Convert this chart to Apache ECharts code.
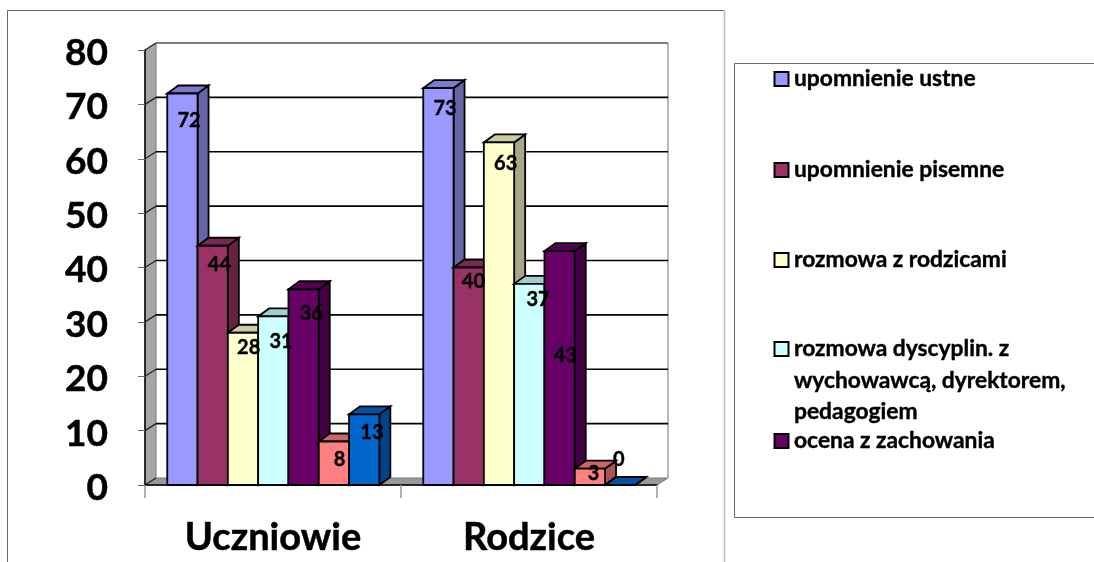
<!DOCTYPE html>
<html>
<head>
<meta charset="utf-8">
<style>
  html, body { margin: 0; padding: 0; background: #fff; }
  #chart { width: 1094px; height: 562px; }
</style>
<script src="https://cdn.jsdelivr.net/npm/echarts@6/dist/echarts.min.js"></script>
</head>
<body>
<div id="chart"></div>
<script>
const categories = ['Uczniowie', 'Rodzice'];
const upomnienieUstne = [72, 73];
const upomnieniePisemne = [44, 40];
const rozmowaZRodzicami = [28, 63];
const rozmowaDyscyplin = [31, 37];
const ocenaZZachowania = [36, 43];
const szosta = [8, 3];
const siodma = [13, 0];
const yTicks = [0, 10, 20, 30, 40, 50, 60, 70, 80];

const legendNames = [
  'upomnienie ustne',
  'upomnienie pisemne',
  'rozmowa z rodzicami',
  'rozmowa dyscyplin. z\nwychowawcą, dyrektorem,\npedagogiem',
  'ocena z zachowania'
];

const allSeries = [upomnienieUstne, upomnieniePisemne, rozmowaZRodzicami, rozmowaDyscyplin, ocenaZZachowania, szosta, siodma];
const colors = ['#9999FF', '#993366', '#FFFFCC', '#CCFFFF', '#660066', '#FF8080', '#0066CC'];

// hand-placed label shifts from the bar's front-top centre, [dx, dy] per series per category
const labelShift = [
  [[7, 27], [7, 20]],
  [[7, 19], [5, 14]],
  [[6, 15], [7, 21]],
  [[8, 25], [9, 16]],
  [[8, 24], [6, 104]],
  [[6, 18], [4, 5]],
  [[8, 18], [-1, -25]]
];

const FONT = 'Lato, Carlito, sans-serif';
const DX = 11;
const DY = 8;
const BAR_SHARE = 30.3 / 256;

function shade(hex, k) {
  const n = parseInt(hex.slice(1), 16);
  const c = [(n >> 16) & 255, (n >> 8) & 255, n & 255].map(v => Math.round(v * k));
  return `rgb(${c[0]},${c[1]},${c[2]})`;
}

function poly(points, fill, stroke, lineWidth) {
  return {
    type: 'polygon',
    shape: { points },
    style: { fill, stroke: stroke || '#000', lineWidth: lineWidth === undefined ? 1.8 : lineWidth }
  };
}

const bar3d = seriesIdx => (params, api) => {
  const catIdx = api.value(0);
  const val = api.value(1);
  const top = api.coord([catIdx, val]);
  const base = api.coord([catIdx, 0]);
  const w = api.size([1, 0])[0] * BAR_SHARE;
  const x0 = top[0] + (seriesIdx - 3.5) * w + 0.3;
  const x1 = x0 + w;
  const c = colors[seriesIdx];
  const children = [
    poly([[x1, top[1]], [x1 + DX, top[1] - DY], [x1 + DX, base[1] - DY], [x1, base[1]]], shade(c, 0.66)),
    poly([[x0, top[1]], [x1, top[1]], [x1 + DX, top[1] - DY], [x0 + DX, top[1] - DY]], shade(c, 0.8))
  ];
  if (val > 0) {
    children.push(poly([[x0, top[1]], [x1, top[1]], [x1, base[1]], [x0, base[1]]], c));
  }
  return { type: 'group', children };
};

const drawWalls = params => {
  const g = params.coordSys;
  const l = g.x, r = g.x + g.width, t = g.y, b = g.y + g.height;
  return {
    type: 'group',
    children: [
      poly([[l, t], [l + DX, t - 7], [l + DX, b - 7], [l, b]], '#A6A6A6', '#777', 1),
      poly([[l, b], [l + DX, b - 7], [r + DX, b - 7], [r, b]], '#999999', '#777', 1),
      { type: 'line', shape: { x1: r + DX, y1: t - 7, x2: r + DX, y2: b - 7 }, style: { stroke: '#A0A0A0', lineWidth: 1.5 } }
    ]
  };
};

const drawGridLine = (params, api) => {
  const g = params.coordSys;
  const y = api.coord([0, api.value(0)])[1];
  const lw = api.value(0) === 0 ? 0 : 1.6;
  return {
    type: 'group',
    children: [
      { type: 'line', shape: { x1: g.x, y1: y, x2: g.x + DX, y2: y - 7 }, style: { stroke: '#222', lineWidth: 1.2 } },
      { type: 'line', shape: { x1: g.x + DX, y1: y - 7, x2: g.x + g.width + DX, y2: y - 7 }, style: { stroke: api.value(0) === 80 ? '#555' : '#000', lineWidth: lw } }
    ]
  };
};

const labelRows = [];
allSeries.forEach((vals, s) => vals.forEach((v, c) => labelRows.push([c, v, s])));

const drawLabel = (params, api) => {
  const c = api.value(0), s = api.value(2);
  const p = api.coord([c, api.value(1)]);
  const w = api.size([1, 0])[0] * BAR_SHARE;
  const cx = p[0] + (s - 3) * w;
  return {
    type: 'text',
    style: {
      x: cx + labelShift[s][c][0],
      y: p[1] + labelShift[s][c][1],
      text: String(api.value(1)),
      fill: '#000',
      stroke: '#000',
      lineWidth: 0.4,
      font: `bold 20px ${FONT}`,
      textAlign: 'center',
      textVerticalAlign: 'middle'
    }
  };
};

// legend rows are spaced unevenly in the source, so placed by hand
const legendY = [79, 170, 260, 349, 441];
const legendGraphic = [];
legendNames.forEach((name, i) => {
  legendGraphic.push({
    type: 'rect',
    shape: { x: 774.5, y: legendY[i] - 7, width: 14, height: 14 },
    style: { fill: colors[i], stroke: '#000', lineWidth: 2 }
  });
  name.split('\n').forEach((line, j) => {
    legendGraphic.push({
      type: 'text',
      style: {
        x: 794,
        y: legendY[i] + j * 31.5,
        text: line,
        fill: '#000',
        stroke: '#000',
        lineWidth: 0.4,
        font: `bold 22.8px ${FONT}`,
        textVerticalAlign: 'middle'
      }
    });
  });
});

const chart = echarts.init(document.getElementById('chart'), null, { renderer: 'canvas' });
chart.setOption({
  animation: false,
  backgroundColor: '#fff',
  grid: { left: 145, top: 50, width: 512, height: 435 },
  xAxis: {
    type: 'category',
    data: categories,
    z: 5,
    axisLine: { lineStyle: { color: '#000', width: 1.5 } },
    axisTick: { show: true, length: 13, lineStyle: { color: '#999', width: 1.5 } },
    axisLabel: { color: '#000', fontFamily: FONT, fontWeight: 'bold', fontSize: 38, margin: 34, textBorderColor: '#000', textBorderWidth: 0.5 },
    splitLine: { show: false }
  },
  yAxis: {
    type: 'value',
    min: 0,
    max: 80,
    interval: 10,
    z: 5,
    axisLine: { show: true, lineStyle: { color: '#000', width: 1.5 } },
    axisTick: { show: true, length: 7, lineStyle: { color: '#666', width: 1 } },
    axisLabel: { color: '#000', fontFamily: FONT, fontWeight: 'bold', fontSize: 37, margin: 37, verticalAlign: 'top', lineHeight: 6, textBorderColor: '#000', textBorderWidth: 0.5 },
    splitLine: { show: false }
  },
  graphic: [
    { type: 'polyline', shape: { points: [[7.5, 562], [7.5, 10.5], [724.5, 10.5]] }, style: { stroke: '#666', fill: null, lineWidth: 1 } },
    { type: 'line', shape: { x1: 724.5, y1: 10.5, x2: 724.5, y2: 562 }, style: { stroke: '#BBB', lineWidth: 1.5 } },
    { type: 'polyline', shape: { points: [[1094, 63.5], [734.5, 63.5], [734.5, 517.5], [1094, 517.5]] }, style: { stroke: '#666', fill: null, lineWidth: 1 } },
    ...legendGraphic
  ],
  series: [
    { type: 'custom', name: 'ściany', z: 1, silent: true, data: [[0]], renderItem: drawWalls, encode: { x: -1, y: -1 } },
    { type: 'custom', name: 'siatka', z: 1.5, silent: true, data: yTicks.map(v => [v]), renderItem: drawGridLine, encode: { y: 0, x: -1 } },
    ...allSeries.map((vals, s) => ({
      type: 'custom',
      name: legendNames[s] || `seria ${s + 1}`,
      z: 2 + s * 0.1,
      data: vals.map((v, c) => [c, v]),
      renderItem: bar3d(s),
      encode: { x: 0, y: 1 }
    })),
    { type: 'custom', name: 'etykiety', z: 6, silent: true, data: labelRows, renderItem: drawLabel, encode: { x: 0, y: 1 } }
  ]
});
</script>
</body>
</html>
